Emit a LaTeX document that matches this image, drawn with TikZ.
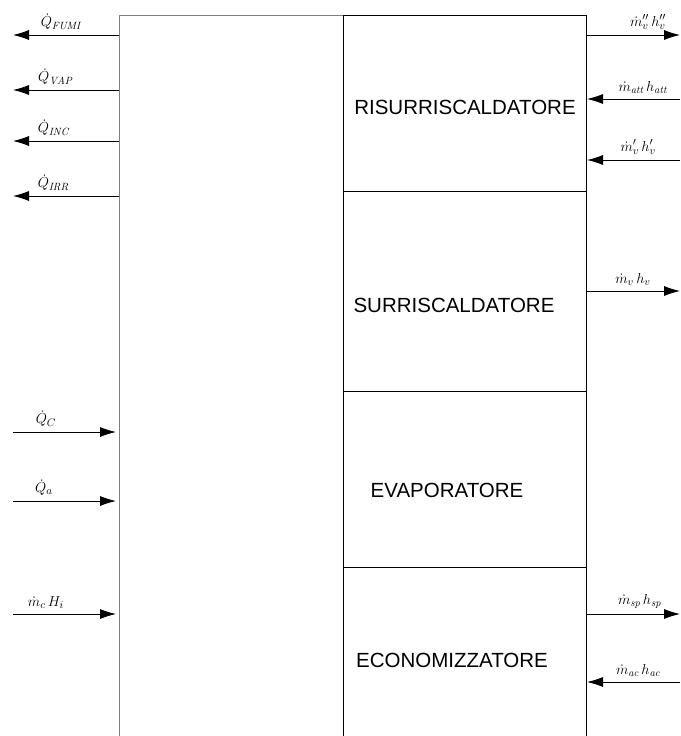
\documentclass[tikz,border=0pt]{standalone}
\usepackage{amsmath}
\usepackage{fontspec}
\usepackage{tikz}
\usetikzlibrary{arrows.meta}
\setsansfont{Liberation Sans}

\begin{document}
\begin{tikzpicture}[x=1pt,y=-1pt,
	flow/.style={line width=0.8pt,-{Latex[length=16pt,width=10pt]}},
	lbl/.style={above=4pt,inner sep=1pt,font=\fontsize{15}{15}\selectfont},
	sect/.style={font=\sffamily\fontsize{20.5}{20.5}\selectfont}]
				\useasboundingbox (0,0) rectangle (680,736);
				% caldaia
				\coordinate []  (LB) at (119,736) ;
				\coordinate []  (LT) at (119,15) ;
				\coordinate []  (MT) at (343,15) ;
				\coordinate []  (MB) at (343,736) ;
				\coordinate []  (RT) at (586,15) ;
				\coordinate []  (RB) at (586,736) ;
				\draw[gray,line width=1pt] (LB) -- (LT) -- (MT) ;
				\draw[line width=0.8pt] (MB) -- (MT) -- (RT) -- (RB) ;
				\foreach \y in {191,391,567}
				\draw[line width=0.8pt] (343,\y) -- (586,\y) ;
				\node[sect] (risurr) at (465,107) {RISURRISCALDATORE} ;
				\node[sect] (surr) at (454,305) {SURRISCALDATORE} ;
				\node[sect] (evap) at (447,490) {EVAPORATORE} ;
				\node[sect] (econ) at (452,660) {ECONOMIZZATORE} ;
				% uscite a sinistra
				\coordinate []  (fumiA) at (119,35) ;
				\coordinate []  (fumiB) at (13,35) ;
				\coordinate []  (vapA) at (119,90) ;
				\coordinate []  (vapB) at (13,90) ;
				\coordinate []  (incA) at (119,141) ;
				\coordinate []  (incB) at (13,141) ;
				\coordinate []  (irrA) at (119,196) ;
				\coordinate []  (irrB) at (13,196) ;
				\path (fumiA) edge[flow] node[lbl,pos=0.55] (qfumi) {$\dot{Q}_{\mathit{FUMI}}$} (fumiB);
				\path (vapA) edge[flow] node[lbl,pos=0.6] (qvap) {$\dot{Q}_{\mathit{VAP}}$} (vapB);
				\path (incA) edge[flow] node[lbl,pos=0.62] (qinc) {$\dot{Q}_{\mathit{INC}}$} (incB);
				\path (irrA) edge[flow] node[lbl,pos=0.62] (qirr) {$\dot{Q}_{\mathit{IRR}}$} (irrB);
				% ingressi a sinistra
				\coordinate []  (cA) at (13,432) ;
				\coordinate []  (cB) at (116,432) ;
				\coordinate []  (aA) at (13,501) ;
				\coordinate []  (aB) at (116,501) ;
				\coordinate []  (hiA) at (13,614) ;
				\coordinate []  (hiB) at (116,614) ;
				\path (cA) edge[flow] node[lbl,pos=0.32] (qc) {$\dot{Q}_C$} (cB);
				\path (aA) edge[flow] node[lbl,pos=0.3] (qa) {$\dot{Q}_a$} (aB);
				\path (hiA) edge[flow] node[lbl,pos=0.32] (mchi) {$\dot{m}_c\,H_i$} (hiB);
				% lato destro
				\coordinate []  (vsA) at (586,35) ;
				\coordinate []  (vsB) at (680,35) ;
				\coordinate []  (attA) at (680,99) ;
				\coordinate []  (attB) at (587,99) ;
				\coordinate []  (vrA) at (680,160) ;
				\coordinate []  (vrB) at (587,160) ;
				\coordinate []  (vA) at (586,291) ;
				\coordinate []  (vB) at (680,291) ;
				\coordinate []  (spA) at (586,614) ;
				\coordinate []  (spB) at (680,614) ;
				\coordinate []  (acA) at (680,682) ;
				\coordinate []  (acB) at (587,682) ;
				\path (vsA) edge[flow] node[lbl,pos=0.66] (mvs) {$\dot{m}''_v\,h''_v$} (vsB);
				\path (attA) edge[flow] node[lbl,pos=0.4] (matt) {$\dot{m}_{\mathit{att}}\,h_{\mathit{att}}$} (attB);
				\path (vrA) edge[flow] node[lbl,pos=0.45] (mvr) {$\dot{m}'_v\,h'_v$} (vrB);
				\path (vA) edge[flow] node[lbl,pos=0.5] (mv) {$\dot{m}_v\,h_v$} (vB);
				\path (spA) edge[flow] node[lbl,pos=0.57] (msp) {$\dot{m}_{\mathit{sp}}\,h_{\mathit{sp}}$} (spB);
				\path (acA) edge[flow] node[lbl,pos=0.45] (mac) {$\dot{m}_{\mathit{ac}}\,h_{\mathit{ac}}$} (acB);
			\end{tikzpicture}
\end{document}
